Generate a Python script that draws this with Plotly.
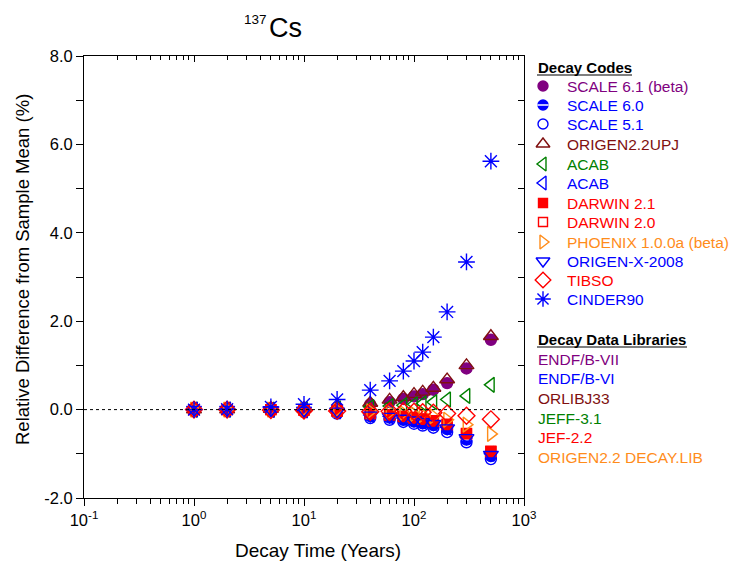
import plotly.graph_objects as go

# ---------------- data ----------------
years = [1, 2, 5, 10, 20, 40, 60, 80, 100, 120, 150, 200, 300, 500]

scale61 = [0.0, 0.0, 0.0, 0.02, 0.04, 0.12, 0.17, 0.24, 0.30, 0.35, 0.45, 0.60, 0.93, 1.58]
scale60 = [0.0, 0.0, -0.01, -0.03, -0.06, -0.15, -0.18, -0.23, -0.27, -0.31, -0.35, -0.44, -0.68, -1.05]
scale51 = [0.0, 0.0, -0.02, -0.05, -0.09, -0.19, -0.23, -0.28, -0.32, -0.36, -0.41, -0.51, -0.74, -1.12]
origen22upj = [0.0, 0.0, 0.01, 0.03, 0.06, 0.15, 0.22, 0.28, 0.35, 0.40, 0.49, 0.68, 1.00, 1.66]
acab_green = [0.0, 0.0, 0.0, 0.01, 0.03, 0.06, 0.08, 0.10, 0.12, 0.14, 0.17, 0.23, 0.31, 0.56]
acab_blue = [0.0, 0.0, -0.01, -0.02, -0.04, -0.12, -0.15, -0.19, -0.23, -0.26, -0.30, -0.40, -0.62, -1.00]
darwin21 = [0.0, 0.0, 0.0, -0.01, -0.03, -0.09, -0.12, -0.16, -0.19, -0.22, -0.26, -0.34, -0.55, -0.95]
darwin20 = [0.0, 0.0, 0.0, -0.01, -0.03, -0.09, -0.12, -0.15, -0.18, -0.21, -0.25, -0.33, -0.54, -0.94]
phoenix = [0.0, 0.0, 0.0, 0.0, -0.01, -0.04, -0.06, -0.08, -0.10, -0.12, -0.15, -0.23, -0.34, -0.55]
origenx = [0.0, 0.0, -0.01, -0.02, -0.04, -0.13, -0.16, -0.20, -0.24, -0.28, -0.32, -0.42, -0.64, -1.02]
tibso = [0.0, 0.0, -0.01, -0.02, -0.03, -0.05, -0.04, -0.04, -0.05, -0.06, -0.07, -0.09, -0.14, -0.22]
cinder90 = [0.0, 0.01, 0.06, 0.12, 0.23, 0.44, 0.65, 0.87, 1.10, 1.30, 1.64, 2.21, 3.34, 5.62]

code_names = ["SCALE 6.1 (beta)", "SCALE 6.0", "SCALE 5.1", "ORIGEN2.2UPJ", "ACAB", "ACAB",
              "DARWIN 2.1", "DARWIN 2.0", "PHOENIX 1.0.0a (beta)", "ORIGEN-X-2008", "TIBSO", "CINDER90"]
library_names = ["ENDF/B-VII", "ENDF/B-VI", "ORLIBJ33", "JEFF-3.1", "JEF-2.2", "ORIGEN2.2 DECAY.LIB"]

x_tick_vals = [0.1, 1, 10, 100, 1000]
x_tick_text = ["10<sup>-1</sup>", "10<sup>0</sup>", "10<sup>1</sup>", "10<sup>2</sup>", "10<sup>3</sup>"]
y_tick_vals = [-2, 0, 2, 4, 6, 8]
y_tick_text = ["-2.0", "0.0", "2.0", "4.0", "6.0", "8.0"]

# ---------------- styles ----------------
PURPLE = "#800080"
BLUE = "#0000FF"
DKRED = "#801010"
GREEN = "#008000"
RED = "#FF0000"
ORANGE = "#FF8C1A"
FONT = "Arial, Liberation Sans, sans-serif"

# (values, symbol, color, size, overlay-bar)
series = [
    (scale61, "circle", PURPLE, 11, False),
    (scale60, "circle", BLUE, 11, True),
    (scale51, "circle-open", BLUE, 11, False),
    (origen22upj, "triangle-up-open", DKRED, 13, False),
    (acab_green, "triangle-left-open", GREEN, 13, False),
    (acab_blue, "triangle-left-open", BLUE, 13, False),
    (darwin21, "square", RED, 10, False),
    (darwin20, "square-open", RED, 10, False),
    (phoenix, "triangle-right-open", ORANGE, 13, False),
    (origenx, "triangle-down-open", BLUE, 13, False),
    (tibso, "diamond-open", RED, 13, False),
    (cinder90, "asterisk-open", BLUE, 14, False),
]
lib_colors = [PURPLE, BLUE, DKRED, GREEN, RED, ORANGE]

fig = go.Figure()

for vals, sym, col, size, bar in series:
    fig.add_trace(go.Scatter(
        x=years, y=vals, mode="markers", showlegend=False, hoverinfo="skip",
        marker=dict(symbol=sym, size=size, color=col,
                    line=dict(color=col, width=1.4)),
    ))
    if bar:
        fig.add_trace(go.Scatter(
            x=years, y=vals, mode="markers", showlegend=False, hoverinfo="skip",
            marker=dict(symbol="line-ew", size=9, color="white",
                        line=dict(color="white", width=1.4)),
        ))

# dummy trace for the mirrored (top/right) axes
fig.add_trace(go.Scatter(x=[1], y=[0], xaxis="x2", yaxis="y2", mode="markers",
                         marker=dict(opacity=0), showlegend=False, hoverinfo="skip"))

# ---------------- legend (drawn on a hidden pixel-unit axis) ----------------
W, H = 729, 563
ML, MR, MT, MB = 84, 10, 56, 65
PW = W - ML - MR
PH = H - MT - MB
XDOM = 440 / PW
leg_x0 = ML + 0.70 * PW

row_y = [86, 105, 124, 144, 164, 183, 203, 222, 242, 261, 280, 299]
mk_x = 543
txt_x = 565

for i, (vals, sym, col, size, bar) in enumerate(series):
    fig.add_trace(go.Scatter(
        x=[mk_x], y=[row_y[i]], xaxis="x3", yaxis="y3", mode="markers",
        showlegend=False, hoverinfo="skip",
        marker=dict(symbol=sym, size=size - 1, color=col, line=dict(color=col, width=1.4)),
    ))
    if bar:
        fig.add_trace(go.Scatter(
            x=[mk_x], y=[row_y[i]], xaxis="x3", yaxis="y3", mode="markers",
            showlegend=False, hoverinfo="skip",
            marker=dict(symbol="line-ew", size=8, color="white",
                        line=dict(color="white", width=1.4)),
        ))

annotations = []
for i, name in enumerate(code_names):
    annotations.append(dict(x=txt_x, y=row_y[i], xref="x3", yref="y3", text=name,
                            showarrow=False, xanchor="left", yanchor="middle",
                            font=dict(family=FONT, size=15.5, color=series[i][2])))
annotations.append(dict(x=536, y=67, xref="x3", yref="y3", text="<b>Decay Codes</b>",
                        showarrow=False, xanchor="left", yanchor="middle",
                        font=dict(family=FONT, size=15, color="black")))
annotations.append(dict(x=536, y=339, xref="x3", yref="y3", text="<b>Decay Data Libraries</b>",
                        showarrow=False, xanchor="left", yanchor="middle",
                        font=dict(family=FONT, size=15, color="black")))
lib_y = [359, 378, 398, 418, 437, 457]
for i, name in enumerate(library_names):
    annotations.append(dict(x=536, y=lib_y[i], xref="x3", yref="y3", text=name,
                            showarrow=False, xanchor="left", yanchor="middle",
                            font=dict(family=FONT, size=15.5, color=lib_colors[i])))

# title (isotope) and axis titles
annotations.append(dict(x=(269 - ML) / PW, y=(H - MB - 19) / PH, xref="paper", yref="paper",
                        text="137", showarrow=False, xanchor="right", yanchor="middle",
                        font=dict(family=FONT, size=13.5, color="black")))
annotations.append(dict(x=(267 - ML) / PW, y=(H - MB - 28) / PH, xref="paper", yref="paper",
                        text="Cs", showarrow=False, xanchor="left", yanchor="middle",
                        font=dict(family=FONT, size=27, color="black")))
annotations.append(dict(x=(22 - ML) / PW, y=(H - MB - 270) / PH, xref="paper", yref="paper",
                        text="Relative Difference from Sample Mean (%)", textangle=-90,
                        showarrow=False, xanchor="center", yanchor="middle",
                        font=dict(family=FONT, size=18.5, color="black")))
annotations.append(dict(x=(318 - ML) / PW, y=(H - MB - 550) / PH, xref="paper", yref="paper",
                        text="Decay Time (Years)", showarrow=False, xanchor="center", yanchor="middle",
                        font=dict(family=FONT, size=19, color="black")))

shapes = [
    dict(type="line", xref="x domain", yref="y", x0=0, x1=1, y0=0, y1=0,
         line=dict(color="black", width=1, dash="dot")),
    dict(type="line", xref="x3", yref="y3", x0=537, x1=632, y0=75, y1=75,
         line=dict(color="black", width=1.2)),
    dict(type="line", xref="x3", yref="y3", x0=537, x1=687, y0=347, y1=347,
         line=dict(color="black", width=1.2)),
]

minor_x = [m * 10 ** e for e in range(-1, 3) for m in range(2, 10)]

fig.update_layout(
    template="none",
    width=W, height=H, autosize=False,
    margin=dict(l=ML, r=MR, t=MT, b=MB, autoexpand=False),
    paper_bgcolor="white", plot_bgcolor="white",
    font=dict(family=FONT, size=14, color="black"),
    showlegend=False,
    annotations=annotations,
    shapes=shapes,
    xaxis=dict(type="log", range=[-1, 3], domain=[0, XDOM], anchor="y", automargin=False,
               showgrid=False, zeroline=False, showline=True, linecolor="black", linewidth=1,
               ticks="outside", ticklen=7, tickcolor="black",
               tickmode="array", tickvals=x_tick_vals, ticktext=x_tick_text,
               tickfont=dict(family=FONT, size=16.5),
               minor=dict(ticks="outside", ticklen=5, tickcolor="black",
                          tickmode="array", tickvals=minor_x, showgrid=False)),
    yaxis=dict(range=[-2, 8], domain=[0, 1], anchor="x", automargin=False,
               showgrid=False, zeroline=False, showline=True, linecolor="black", linewidth=1,
               ticks="outside", ticklen=7, tickcolor="black",
               tickmode="array", tickvals=y_tick_vals, ticktext=y_tick_text,
               tickfont=dict(family=FONT, size=16.5),
               minor=dict(ticks="outside", ticklen=7, tickcolor="black", dtick=1, showgrid=False)),
    xaxis2=dict(type="log", range=[-1, 3], overlaying="x", side="top", anchor="y2", automargin=False,
                showgrid=False, zeroline=False, showline=True, linecolor="black", linewidth=1,
                ticks="inside", ticklen=6, tickcolor="black", showticklabels=False,
                tickmode="array", tickvals=x_tick_vals,
                minor=dict(ticks="inside", ticklen=4, tickcolor="black",
                           tickmode="array", tickvals=minor_x, showgrid=False)),
    yaxis2=dict(range=[-2, 8], overlaying="y", side="right", anchor="x2", automargin=False,
                showgrid=False, zeroline=False, showline=True, linecolor="black", linewidth=1,
                ticks="inside", ticklen=6, tickcolor="black", showticklabels=False,
                tickmode="array", tickvals=y_tick_vals,
                minor=dict(ticks="inside", ticklen=6, tickcolor="black", dtick=1, showgrid=False)),
    xaxis3=dict(domain=[0.70, 1.0], range=[leg_x0, W - MR], anchor="y3", visible=False,
                fixedrange=True, automargin=False),
    yaxis3=dict(domain=[0, 1], range=[H - MB, MT], anchor="x3", visible=False,
                fixedrange=True, automargin=False),
)

fig.write_html("out.html")
